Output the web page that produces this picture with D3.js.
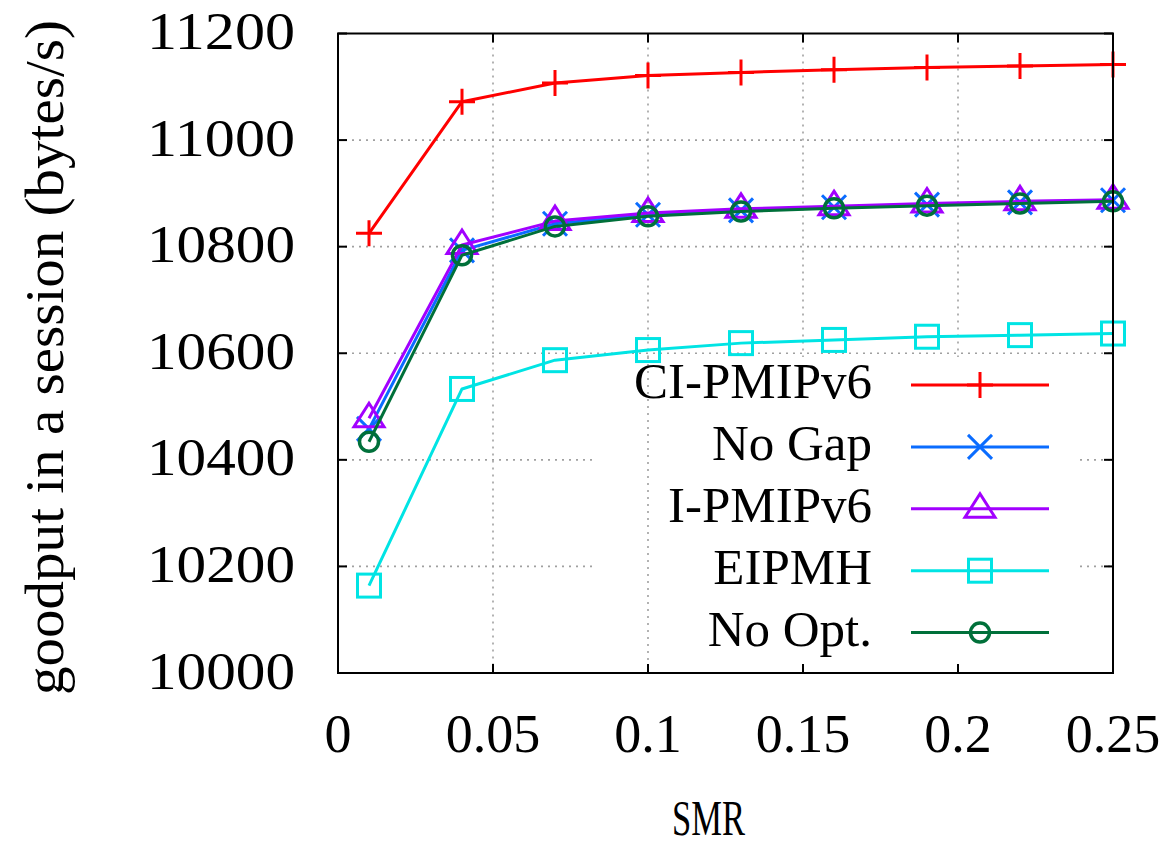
<!DOCTYPE html>
<html>
<head>
<meta charset="utf-8">
<script src="https://cdn.jsdelivr.net/npm/d3@7"></script>
<style>
  html, body { margin: 0; padding: 0; background: #fff; }
  svg { display: block; }
  text { font-family: "Liberation Serif", "Times New Roman", serif; fill: #000; }
</style>
</head>
<body>
<svg id="chart" width="1172" height="847"></svg>
<script>
// ---- data ----
const smr = [0.01, 0.04, 0.07, 0.10, 0.13, 0.16, 0.19, 0.22, 0.25];
const ciPmip = [10825, 11072, 11107, 11121, 11127, 11132, 11136, 11139, 11142];
const noGap  = [10458, 10793, 10843, 10860, 10868, 10874, 10879, 10883, 10887];
const iPmip  = [10478, 10803, 10848, 10863, 10871, 10876, 10881, 10885, 10888];
const eipmh  = [10164, 10533, 10587, 10606, 10619, 10625, 10631, 10634, 10637];
const noOpt  = [10434, 10784, 10838, 10857, 10866, 10872, 10877, 10881, 10885];
const seriesNames = ["CI-PMIPv6", "No Gap", "I-PMIPv6", "EIPMH", "No Opt."];
const xTicks = [0, 0.05, 0.1, 0.15, 0.2, 0.25];
const xTickLabels = ["0", "0.05", "0.1", "0.15", "0.2", "0.25"];
const yTicks = [10000, 10200, 10400, 10600, 10800, 11000, 11200];
const yTickLabels = ["10000", "10200", "10400", "10600", "10800", "11000", "11200"];
const xTitle = "SMR";
const yTitle = "goodput in a session (bytes/s)";

// ---- styles ----
const series = [
  { name: seriesNames[0], values: ciPmip, color: "#ff0000", marker: "plus" },
  { name: seriesNames[1], values: noGap,  color: "#0a6cff", marker: "cross" },
  { name: seriesNames[2], values: iPmip,  color: "#a200ff", marker: "triangle" },
  { name: seriesNames[3], values: eipmh,  color: "#00e4e4", marker: "square" },
  { name: seriesNames[4], values: noOpt,  color: "#00703a", marker: "circle" }
];

const svg = d3.select("#chart");
const L = 338, R = 1113, T = 33.5, B = 673;
const x = d3.scaleLinear().domain([0, 0.25]).range([L, R]);
const y = d3.scaleLinear().domain([10000, 11200]).range([B, T]);

// grid
const grid = svg.append("g").attr("stroke", "#a0a0a0").attr("stroke-width", 1.6)
  .attr("stroke-dasharray", "2,5");
xTicks.filter(t => t > 0 && t < 0.25).forEach(t => {
  grid.append("line").attr("x1", x(t)).attr("x2", x(t)).attr("y1", T).attr("y2", B);
});
yTicks.filter(t => t > 10000 && t < 11200).forEach(t => {
  grid.append("line").attr("x1", L).attr("x2", R).attr("y1", y(t)).attr("y2", y(t));
});

// opaque key background
svg.append("rect").attr("x", 593).attr("y", 357).attr("width", 487).attr("height", 307)
  .attr("fill", "#fff");
svg.append("line").attr("x1", x(0.1)).attr("x2", x(0.1)).attr("y1", 357).attr("y2", B)
  .attr("stroke", "#a0a0a0").attr("stroke-width", 1.6).attr("stroke-dasharray", "2,5");

// marker drawing
function drawMarker(g, type, cx, cy, color) {
  const sw = 3;
  if (type === "plus") {
    g.append("path").attr("d", `M${cx-13},${cy}H${cx+13}M${cx},${cy-13}V${cy+13}`)
      .attr("stroke", color).attr("stroke-width", sw).attr("fill", "none");
  } else if (type === "cross") {
    g.append("path").attr("d", `M${cx-12},${cy-12}L${cx+12},${cy+12}M${cx-12},${cy+12}L${cx+12},${cy-12}`)
      .attr("stroke", color).attr("stroke-width", sw).attr("fill", "none");
  } else if (type === "triangle") {
    g.append("path").attr("d", `M${cx},${cy-15}L${cx+15},${cy+8.5}L${cx-15},${cy+8.5}Z`)
      .attr("stroke", color).attr("stroke-width", sw).attr("fill", "none");
  } else if (type === "square") {
    g.append("rect").attr("x", cx-11.5).attr("y", cy-11.5).attr("width", 23).attr("height", 23)
      .attr("stroke", color).attr("stroke-width", sw).attr("fill", "none");
  } else if (type === "circle") {
    g.append("circle").attr("cx", cx).attr("cy", cy).attr("r", 9.5)
      .attr("stroke", color).attr("stroke-width", sw + 0.5).attr("fill", "none");
  }
}

// series
const line = d3.line().x((d, i) => x(smr[i])).y(d => y(d));
series.forEach(s => {
  const g = svg.append("g");
  g.append("path").datum(s.values).attr("d", line)
    .attr("fill", "none").attr("stroke", s.color).attr("stroke-width", 3)
    .attr("stroke-linejoin", "round");
  s.values.forEach((v, i) => drawMarker(g, s.marker, x(smr[i]), y(v), s.color));
});

// frame and ticks
const frame = svg.append("g").attr("stroke", "#000").attr("stroke-width", 2);
frame.append("rect").attr("x", L).attr("y", T).attr("width", R - L).attr("height", B - T)
  .attr("fill", "none");
const tl = 9;
xTicks.forEach(t => {
  frame.append("line").attr("x1", x(t)).attr("x2", x(t)).attr("y1", B).attr("y2", B - tl);
  frame.append("line").attr("x1", x(t)).attr("x2", x(t)).attr("y1", T).attr("y2", T + tl);
});
yTicks.forEach(t => {
  frame.append("line").attr("x1", L).attr("x2", L + tl).attr("y1", y(t)).attr("y2", y(t));
  frame.append("line").attr("x1", R).attr("x2", R - tl).attr("y1", y(t)).attr("y2", y(t));
});

// tick labels
xTicks.forEach((t, i) => {
  svg.append("text").attr("x", x(t)).attr("y", 752).attr("text-anchor", "middle")
    .attr("font-size", 54).text(xTickLabels[i]);
});
yTicks.forEach((t, i) => {
  svg.append("text").attr("x", 295).attr("y", y(t) + 15.5).attr("text-anchor", "end")
    .attr("font-size", 53).attr("textLength", 148).attr("lengthAdjust", "spacingAndGlyphs")
    .text(yTickLabels[i]);
});

// axis titles
svg.append("text").attr("x", 672).attr("y", 835).attr("font-size", 50)
  .attr("textLength", 73).attr("lengthAdjust", "spacingAndGlyphs").text(xTitle);
svg.append("text").attr("transform", "translate(63,20) rotate(-90)")
  .attr("x", -675).attr("y", 0).attr("font-size", 54)
  .attr("textLength", 675).attr("lengthAdjust", "spacingAndGlyphs").text(yTitle);

// legend
const rowY0 = 385, rowStep = 61.9;
series.forEach((s, i) => {
  const ry = rowY0 + i * rowStep;
  svg.append("text").attr("x", 872).attr("y", ry + 13).attr("text-anchor", "end")
    .attr("font-size", 51).text(s.name);
  svg.append("line").attr("x1", 911).attr("x2", 1049).attr("y1", ry).attr("y2", ry)
    .attr("stroke", s.color).attr("stroke-width", 3);
  drawMarker(svg.append("g"), s.marker, 980, ry, s.color);
});
</script>
</body>
</html>
